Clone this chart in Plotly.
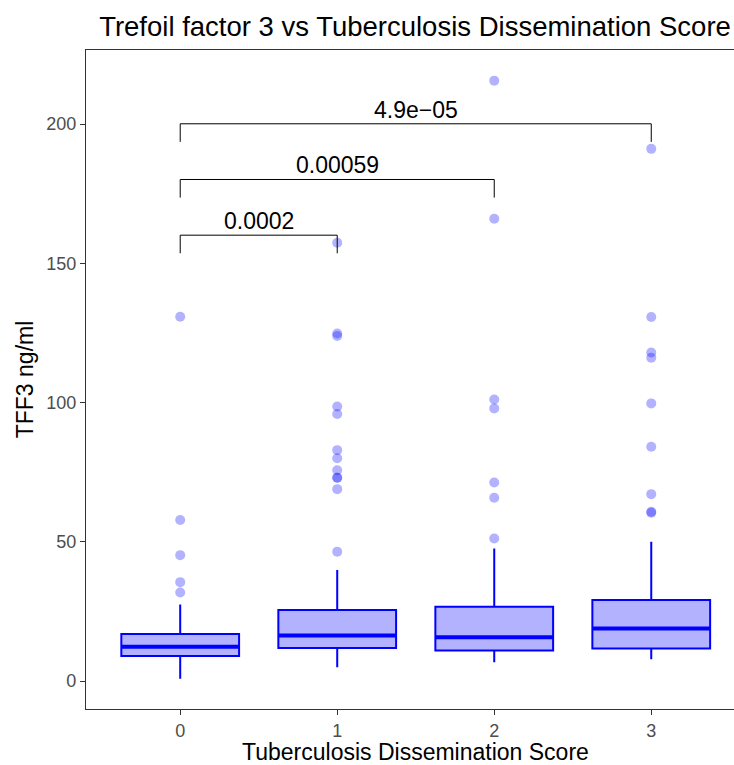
import plotly.graph_objects as go

# Dissemination score groups
scores = [0, 1, 2, 3]

# Box summary statistics (TFF3, ng/ml)
lower_whisker = [0.8, 4.9, 6.7, 7.8]
q1 = [9.0, 11.9, 11.0, 11.7]
median = [12.3, 16.3, 15.7, 18.9]
q3 = [16.9, 25.5, 26.7, 29.1]
upper_whisker = [27.5, 39.9, 47.6, 50.0]

# Outlying observations per group
outliers_0 = [130.8, 57.8, 45.2, 35.5, 31.8]
outliers_1 = [157.4, 124.8, 123.9, 98.6, 95.9, 82.9, 80.0, 75.7, 73.0, 73.0, 68.9, 46.4]
outliers_2 = [215.6, 166.0, 101.1, 97.9, 71.3, 65.8, 51.2]
outliers_3 = [191.1, 130.7, 118.0, 116.1, 99.7, 84.1, 67.1, 60.8, 60.4]
outliers = [outliers_0, outliers_1, outliers_2, outliers_3]

# Pairwise comparisons against score 0
cmp_from = [0, 0, 0]
cmp_to = [1, 2, 3]
cmp_y = [160.1, 180.1, 200.1]
cmp_label = ["0.0002", "0.00059", "4.9e\u221205"]
tip_drop = 6.5

BOX_WIDTH = 0.75
LINE_BLUE = "#0000FF"
FILL_BLUE = "rgba(0,0,255,0.3)"
AXIS_GRAY = "#333333"
FONT = "Liberation Sans, Arial, Helvetica, sans-serif"

fig = go.Figure()

fig.add_trace(go.Box(
    x=scores,
    q1=q1, median=median, q3=q3,
    lowerfence=lower_whisker, upperfence=upper_whisker,
    width=BOX_WIDTH,
    whiskerwidth=0,
    fillcolor=FILL_BLUE,
    line=dict(color=LINE_BLUE, width=2),
    boxpoints=False,
    hoverinfo="skip",
    showlegend=False,
))

# Thicker median bars
for s, m in zip(scores, median):
    fig.add_trace(go.Scatter(
        x=[s - BOX_WIDTH / 2, s + BOX_WIDTH / 2], y=[m, m],
        mode="lines", line=dict(color=LINE_BLUE, width=4),
        hoverinfo="skip", showlegend=False,
    ))

# Outlier points
for s, pts in zip(scores, outliers):
    fig.add_trace(go.Scatter(
        x=[s] * len(pts), y=pts, mode="markers",
        marker=dict(color=FILL_BLUE, size=10, line=dict(width=0)),
        hoverinfo="skip", showlegend=False,
    ))

# Significance brackets
for a, b, y, lab in zip(cmp_from, cmp_to, cmp_y, cmp_label):
    fig.add_trace(go.Scatter(
        x=[a, a, b, b], y=[y - tip_drop, y, y, y - tip_drop],
        mode="lines", line=dict(color="black", width=1),
        hoverinfo="skip", showlegend=False,
    ))
    fig.add_annotation(
        x=(a + b) / 2, y=y, text=lab, showarrow=False,
        xref="x", yref="y", yanchor="middle", yshift=14,
        font=dict(family=FONT, size=23, color="black"),
    )

# X axis title, centred under the full panel width
fig.add_annotation(
    text="Tuberculosis Dissemination Score",
    xref="x", yref="paper", x=1.5, y=0,
    xanchor="center", yanchor="middle", yshift=-43,
    showarrow=False,
    font=dict(family=FONT, size=23, color="black"),
)

fig.update_layout(
    width=734, height=765,
    margin=dict(l=86, r=0, t=50, b=56),
    paper_bgcolor="white", plot_bgcolor="white",
    font=dict(family=FONT),
    title=dict(
        text="Trefoil factor 3 vs Tuberculosis Dissemination Score",
        xref="container", yref="container",
        x=415 / 734, y=1 - 26 / 765,
        xanchor="center", yanchor="middle",
        font=dict(family=FONT, size=27.5, color="black"),
    ),
)

fig.update_xaxes(
    range=[-0.6, 3.527], tickmode="array", tickvals=scores,
    ticktext=[str(s) for s in scores],
    showgrid=False, zeroline=False,
    showline=True, linecolor=AXIS_GRAY, linewidth=1.2, mirror=True,
    ticks="outside", ticklen=5, tickcolor=AXIS_GRAY, tickwidth=1.2,
    tickfont=dict(family=FONT, size=18, color="#4D4D4D"),
)
fig.update_yaxes(
    range=[-10.05, 226.6], tickmode="array", tickvals=[0, 50, 100, 150, 200],
    showgrid=False, zeroline=False,
    showline=True, linecolor=AXIS_GRAY, linewidth=1.2,
    ticks="outside", ticklen=5, tickcolor=AXIS_GRAY, tickwidth=1.2,
    tickfont=dict(family=FONT, size=18, color="#4D4D4D"),
    title=dict(text="TFF3 ng/ml", standoff=6,
               font=dict(family=FONT, size=23, color="black")),
)

fig.write_html("out.html")
